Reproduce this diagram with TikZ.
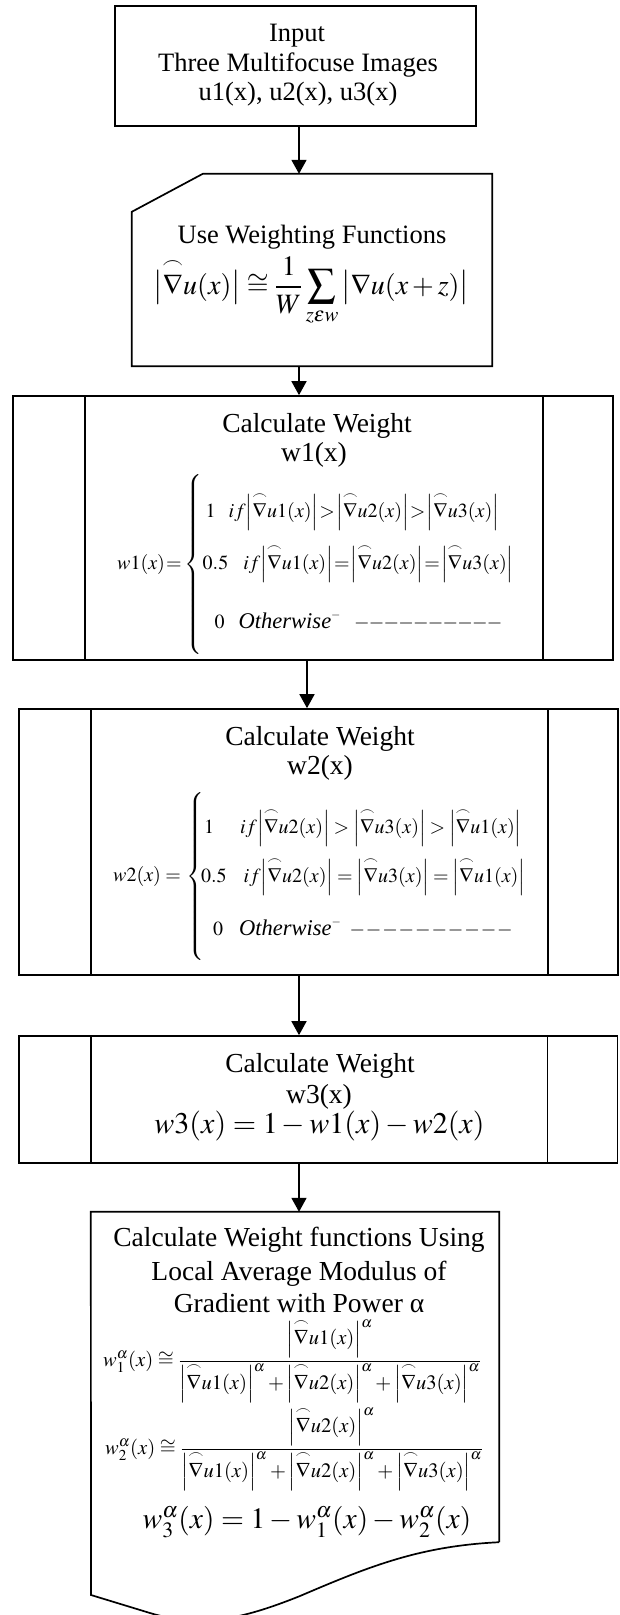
\documentclass[tikz,border=0pt]{standalone}
\usepackage{amsmath}
\usepackage{mathptmx}
\usepackage{fontspec}
\setmainfont{Liberation Serif}
\usetikzlibrary{arrows.meta}
\newcommand{\ga}[2][1.22em]{{\left|\rule{0pt}{#1}\smash[t]{\overset{\frown}{\nabla}}u#2(x)\right|}}
\newcommand{\dsh}{\mathord{-}\mkern-0.7mu}
\newcommand{\dashrow}{\dsh\dsh\dsh\dsh\dsh\dsh\dsh\dsh\dsh\mathord{-}}
\newcommand{\dshw}{\mathord{-}\mkern0.8mu}
\newcommand{\dashroww}{\dshw\dshw\dshw\dshw\dshw\dshw\dshw\dshw\dshw\mathord{-}}
\newcommand{\othw}{\text{\fontsize{22.5}{26}\selectfont\itshape Otherwise}^{\scriptscriptstyle -}}
\newcommand{\tgt}{\mkern1mu\mathord{>}\mkern1mu}
\newcommand{\teq}{\mkern1mu\mathord{=}\mkern1mu}
\newcommand{\wgt}{\mkern3.5mu\mathord{>}\mkern3.5mu}
\newcommand{\weq}{\mkern3.5mu\mathord{=}\mkern3.5mu}
\tikzset{
  box/.style={draw, line width=1.7pt, inner sep=0pt},
  ghost/.style={inner sep=0pt},
  txt/.style={inner sep=0pt, font=\fontsize{26.5}{30}\selectfont},
  ttl/.style={inner sep=0pt, font=\fontsize{27.5}{31}\selectfont},
  sml/.style={inner sep=0pt, font=\fontsize{20}{24}\selectfont},
  frc/.style={inner sep=0pt, font=\fontsize{20.5}{24.6}\selectfont},
  mid/.style={inner sep=0pt, font=\fontsize{28}{33}\selectfont},
  big/.style={inner sep=0pt, font=\fontsize{30}{36}\selectfont},
  arr/.style={line width=1.7pt, -{Triangle[width=15pt,length=14pt]}},
}
\setlength{\arraycolsep}{0pt}
\begin{document}
\begin{tikzpicture}[x=1pt,y=-1pt]
\useasboundingbox (0,0) rectangle (619,1615);

% ---- box 1
\node[box, minimum width=361pt, minimum height=120pt] (b1) at (295.5,66) {};
\node[txt, anchor=base] (b1a) at (297,41) {Input};
\node[txt, anchor=base] (b1b) at (298,71) {Three Multifocuse Images};
\node[txt, anchor=base] (b1c) at (298,100) {u1(x), u2(x), u3(x)};

% ---- box 2 (card)
\node[ghost, minimum width=360pt, minimum height=192pt] (b2) at (312,270) {};
\draw[line width=1.7pt] ([xshift=71pt]b2.north west) -- (b2.north east) -- (b2.south east)
  -- (b2.south west) -- ([yshift=-38pt]b2.north west) -- cycle;
\node[txt, anchor=base] (b2a) at (312,243) {Use Weighting Functions};
\node[mid, anchor=base] (b2b) at (311,294)
  {$\displaystyle \ga[0.85em]{} \cong \frac{1}{W}\sum\limits_{z\varepsilon w}{\left|\rule{0pt}{0.85em}\nabla u(x+z)\right|}$};

% ---- box 3
\node[box, minimum width=600pt, minimum height=264pt] (b3) at (313,528) {};
\draw[line width=1.7pt] ([xshift=73pt]b3.north west) -- ([xshift=73pt]b3.south west);
\draw[line width=1.7pt] ([xshift=-71pt]b3.north east) -- ([xshift=-71pt]b3.south east);
\node[ttl, anchor=base] (b3a) at (317,432) {Calculate Weight};
\node[ttl, anchor=base] (b3b) at (314,461) {w1(x)};
\node[sml, anchor=west] (b3c) at (117,564.4)
  {$w1(x)\teq\left\{\rule[-82.5pt]{0pt}{175pt}\begin{array}{l}
     \hspace{3pt}1\hspace{13pt}if\ga{1}\tgt\ga{2}\tgt\ga{3}\\[20.4pt]
     \hspace{0pt}0.5\hspace{15pt}if\ga{1}\teq\ga{2}\teq\ga{3}\\[34pt]
     \hspace{12pt}0\hspace{14pt}\othw\hspace{13pt}\dashrow
   \end{array}\right.$};

% ---- box 4
\node[box, minimum width=599pt, minimum height=266pt] (b4) at (318.5,842) {};
\draw[line width=1.7pt] ([xshift=73pt]b4.north west) -- ([xshift=73pt]b4.south west);
\draw[line width=1.7pt] ([xshift=-71pt]b4.north east) -- ([xshift=-71pt]b4.south east);
\node[ttl, anchor=base] (b4a) at (320,745) {Calculate Weight};
\node[ttl, anchor=base] (b4b) at (320,774) {w2(x)};
\node[sml, anchor=west] (b4c) at (113,876)
  {$w2(x)=\hspace{1pt}\left\{\rule[-80pt]{0pt}{170pt}\begin{array}{l}
     \hspace{0pt}1\hspace{26pt}if\ga{2}\wgt\ga{3}\wgt\ga{1}\\[17.4pt]
     \hspace{-3pt}0.5\hspace{17pt}if\ga{2}\weq\ga{3}\weq\ga{1}\\[29pt]
     \hspace{9pt}0\hspace{16pt}\othw\hspace{8pt}\dashroww
   \end{array}\right.$};

% ---- box 5
\node[box, minimum width=598.5pt, minimum height=127pt] (b5) at (318.25,1099.5) {};
\draw[line width=1.7pt] ([xshift=73pt]b5.north west) -- ([xshift=73pt]b5.south west);
\draw[line width=1.7pt] ([xshift=-71pt]b5.north east) -- ([xshift=-71pt]b5.south east);
\node[ttl, anchor=base] (b5a) at (320,1072) {Calculate Weight};
\node[ttl, anchor=base] (b5b) at (319,1103) {w3(x)};
\node[big, anchor=base] (b5c) at (319.5,1133) {$w3(x)=1-w1(x)-w2(x)$};

% ---- box 6 (document)
\node[ghost, minimum width=408pt, minimum height=330pt] (b6) at (295,1377) {};
\draw[line width=1.7pt] (b6.south east) -- (b6.north east) -- (b6.north west) -- (91,1595)
  -- (150,1613) .. controls (200,1628) and (240,1620) .. (300,1596)
  .. controls (370,1566) and (420,1546) .. (b6.south east);
\node[ttl, anchor=base] (b6a) at (299,1246) {Calculate Weight functions Using};
\node[ttl, anchor=base] (b6b) at (299,1280) {Local Average Modulus of};
\node[ttl, anchor=base] (b6c) at (299,1312) {Gradient with Power α};
\node[frc, anchor=west] (b6d) at (103,1361)
  {$w_1^{\alpha}(x)\cong\dfrac{\ga[1em]{1}^{\alpha}}{\ga[1em]{1}^{\alpha}+\ga[1em]{2}^{\alpha}+\ga[1em]{3}^{\alpha}}$};
\node[frc, anchor=west] (b6e) at (105,1449)
  {$w_2^{\alpha}(x)\cong\dfrac{\ga[1em]{2}^{\alpha}}{\ga[1em]{1}^{\alpha}+\ga[1em]{2}^{\alpha}+\ga[1em]{3}^{\alpha}}$};
\node[big, anchor=base, font=\fontsize{29.5}{35}\selectfont] (b6f) at (307,1528) {$w_3^{\alpha}(x)=1-w_1^{\alpha}(x)-w_2^{\alpha}(x)$};

% ---- connectors
\draw[arr] ([xshift=3.5pt]b1.south) -- ([xshift=-13pt]b2.north);
\draw[arr] ([xshift=-13pt]b2.south) -- ([xshift=-14pt]b3.north);
\draw[arr] ([xshift=-6pt]b3.south) -- ([xshift=-11.5pt]b4.north);
\draw[arr] ([xshift=-19.5pt]b4.south) -- ([xshift=-19.25pt]b5.north);
\draw[arr] ([xshift=-19.25pt]b5.south) -- ([xshift=4pt]b6.north);
\end{tikzpicture}
\end{document}
